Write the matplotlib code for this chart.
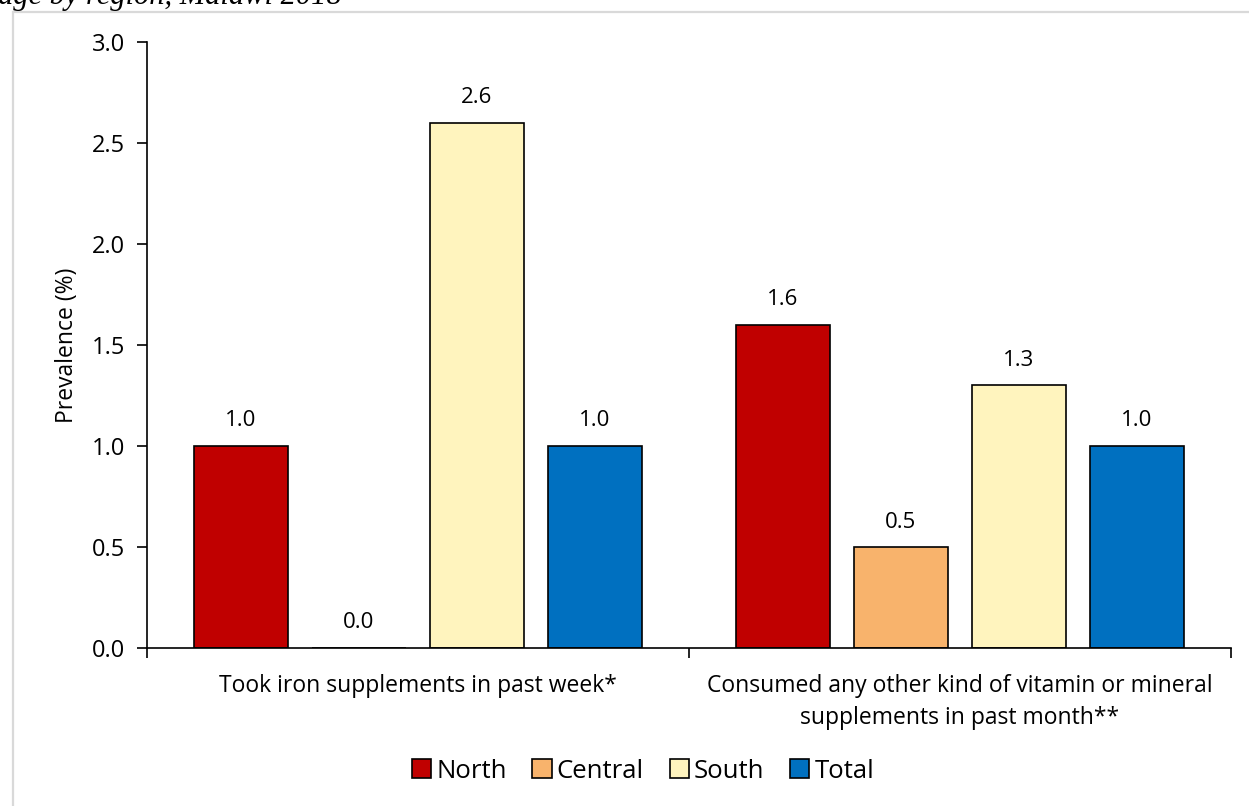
import matplotlib
matplotlib.use("Agg")
import matplotlib.pyplot as plt
from matplotlib.patches import Rectangle, Patch
import numpy as np

plt.rcParams['font.family'] = ['Open Sans', 'DejaVu Sans']

categories = ["Took iron supplements in past week*",
              "Consumed any other kind of vitamin or mineral\nsupplements in past month**"]
regions = ["North", "Central", "South", "Total"]
values = {
    "North":   [1.0, 1.6],
    "Central": [0.0, 0.5],
    "South":   [2.6, 1.3],
    "Total":   [1.0, 1.0],
}
colors = {"North": "#C00000", "Central": "#F8B36C", "South": "#FFF4BE", "Total": "#0070C0"}
yticks = [0.0, 0.5, 1.0, 1.5, 2.0, 2.5, 3.0]

fig = plt.figure(figsize=(12.49, 8.06), dpi=100)
ax = fig.add_axes([147/1249, 1 - 648/806, (1231 - 147)/1249, (648 - 42)/806])

# outer chart frame
fig.patches.append(Rectangle((12.5/1249, -0.05), 1.1, 1 - 12.5/806 + 0.05,
                             transform=fig.transFigure, fill=False,
                             edgecolor="#d9d9d9", lw=1.6, zorder=0))
fig.text(-2/1249, 1 - 4/806, "age by region, Malawi 2018", family="Liberation Serif",
         style="italic", fontsize=22, ha="left", va="baseline")

x = np.arange(len(categories))
step = 118 / 542
width = 94 / 542
for i, r in enumerate(regions):
    pos = x + (i - 1.5) * step
    ax.bar(pos, values[r], width=width, color=colors[r],
           edgecolor="black", linewidth=1.2, label=r, zorder=2)
    for xp, v in zip(pos, values[r]):
        ax.annotate(f"{v:.1f}", (xp, v), xytext=(0, 25), textcoords="offset pixels",
                    ha="center", va="center", fontsize=16)

ax.set_xlim(-0.5, 1.5)
ax.set_ylim(0, 3.0)
ax.set_yticks(yticks)
ax.set_yticklabels([f"{t:.1f}" for t in yticks], fontsize=17)
ax.tick_params(axis="y", direction="out", length=7, width=1.2, pad=9)
ax.set_xticks(x)
ax.set_xticklabels(categories, fontsize=16.5, linespacing=1.45)
ax.tick_params(axis="x", which="major", length=0, pad=19)
ax.set_xticks([-0.5, 0.5, 1.5], minor=True)
ax.tick_params(axis="x", which="minor", direction="out", length=7, width=1.2)
for s in ["top", "right"]:
    ax.spines[s].set_visible(False)
for s in ["left", "bottom"]:
    ax.spines[s].set_linewidth(1.2)
ax.set_ylabel("Prevalence (%)", fontsize=16.5, labelpad=9)

handles = [Patch(facecolor=colors[r], edgecolor="black", linewidth=1.2) for r in regions]
fig.legend(handles, regions, loc="center", bbox_to_anchor=(643/1249, 1 - 771/806),
           ncol=4, frameon=False, fontsize=18.5, handlelength=0.75, handleheight=0.75,
           handletextpad=0.2, columnspacing=1.0)

fig.savefig("out.png", dpi=100, facecolor="white")
